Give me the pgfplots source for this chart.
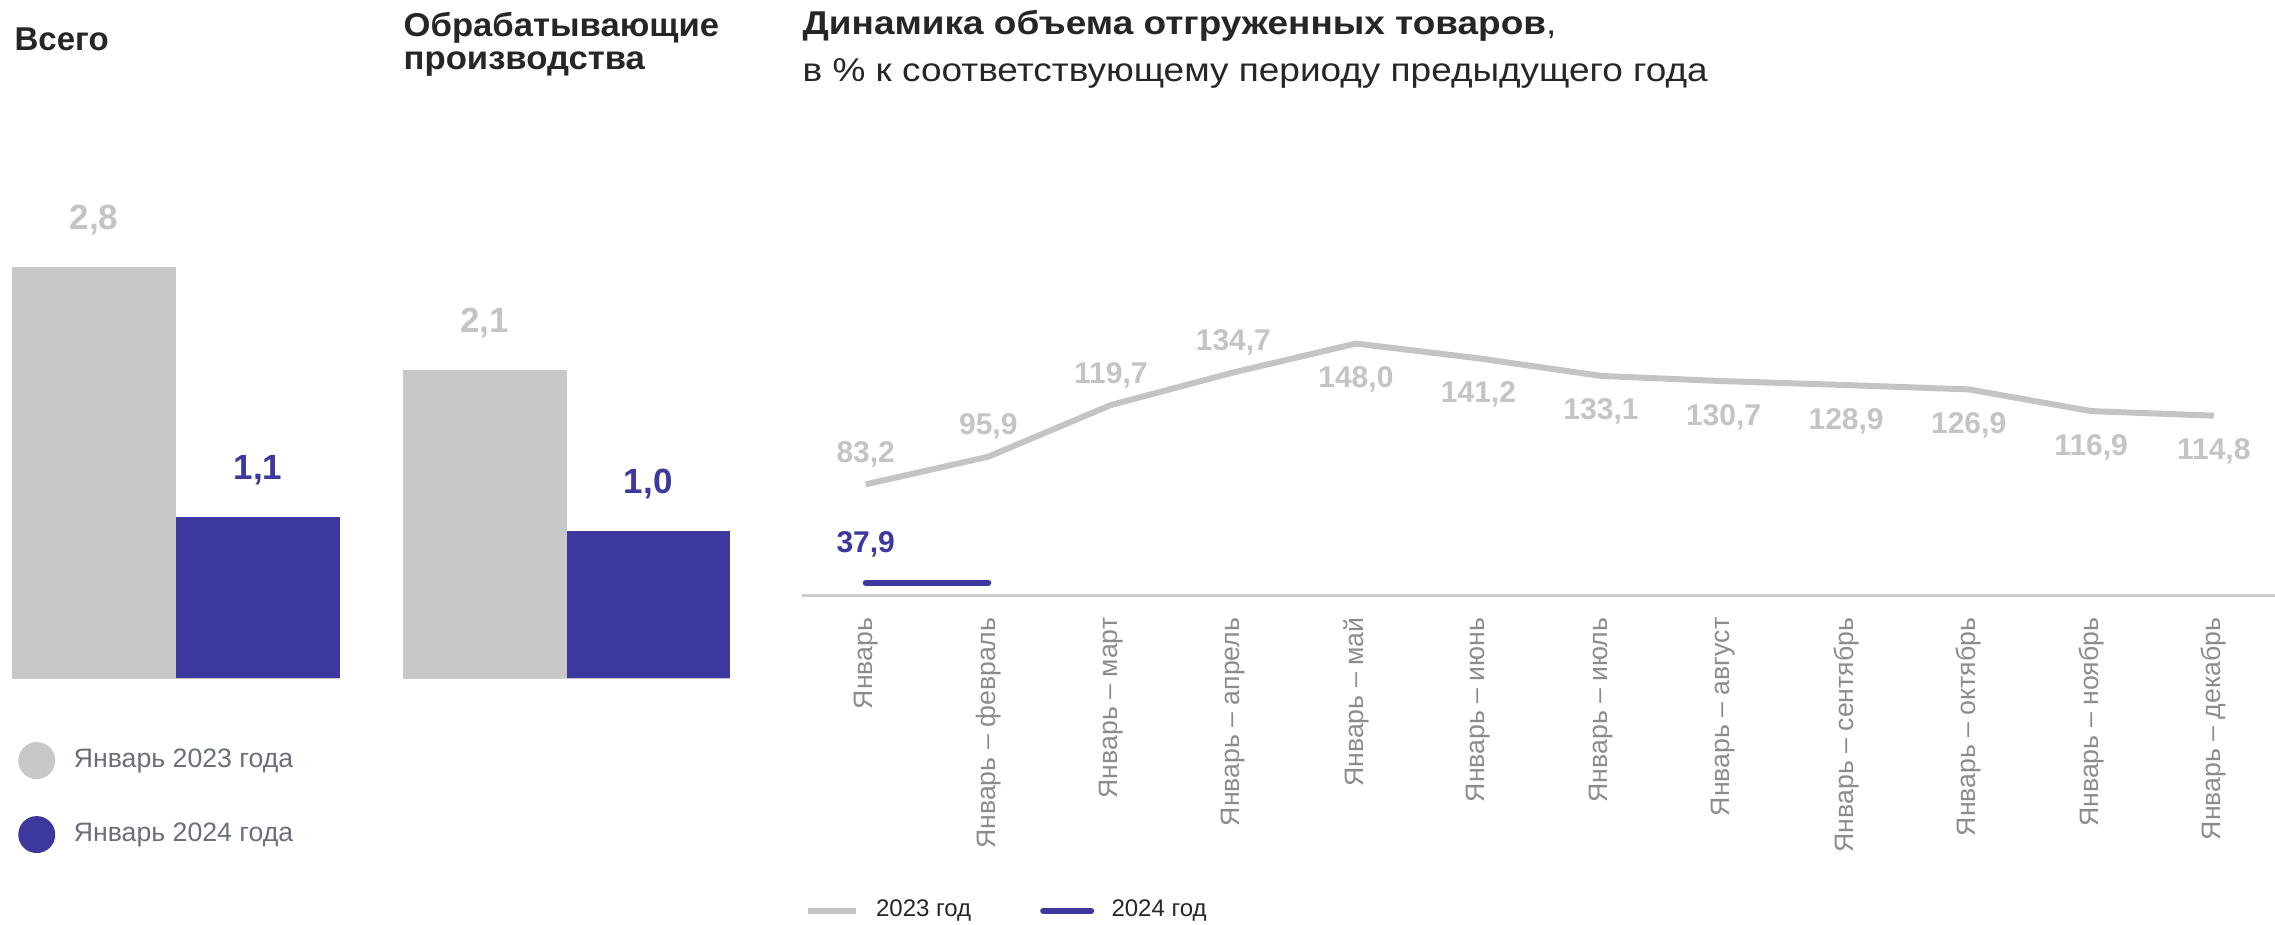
\documentclass[border=0pt]{standalone}
\usepackage{pgfplots}
\pgfplotsset{compat=1.18}
\usepackage{fontspec}
\setmainfont{Liberation Sans}
\newfontfamily\headA[FakeStretch=1.05]{Liberation Sans}
\newfontfamily\headB[FakeStretch=1.12]{Liberation Sans}

\definecolor{barGray}{HTML}{C8C8C8}
\definecolor{barBlue}{HTML}{3D389D}
\definecolor{labelGray}{HTML}{C4C4C4}
\definecolor{lineGray}{HTML}{C4C4C4}
\definecolor{tickGray}{HTML}{8C8C8C}
\definecolor{titleColor}{HTML}{262626}
\definecolor{legendText}{HTML}{6B6E7C}
\definecolor{axisGray}{HTML}{CCCCCC}

\pgfplotsset{
  barpanel/.style={
    anchor=south west, scale only axis,
    height=132.12pt,
    xmin=-0.5, xmax=1.5, ymin=0, ymax=3,
    ybar, bar width=1, bar shift=0pt,
    axis y line=none, axis x line*=bottom,
    x axis line style={-, draw=axisGray, line width=0.6pt},
    xtick=\empty, ytick=\empty, major tick length=0pt,
    clip=false,
    every axis plot/.append style={draw=none},
    nodes near coords,
    every node near coord/.append style={font=\fontsize{10.5}{12}\selectfont\bfseries,
      text=labelGray, anchor=base, yshift=11.25pt, inner sep=0pt},
    /pgf/number format/.cd, use comma, fixed, fixed zerofill, precision=1,
      assume math mode=true,
  },
}

\begin{document}
\begin{tikzpicture}
\path[use as bounding box] (0,0) rectangle (682.5pt,277.5pt);

% headings
\node[anchor=base west, inner sep=0pt, text=titleColor,
  font=\fontsize{9.9}{11.9}\selectfont\bfseries] at (4.2pt,262.2pt) {Всего};
\node[anchor=base west, inner sep=0pt, text=titleColor,
  font=\headA\fontsize{9.9}{11.9}\selectfont\bfseries] at (120.9pt,266.4pt) {Обрабатывающие};
\node[anchor=base west, inner sep=0pt, text=titleColor,
  font=\headA\fontsize{9.9}{11.9}\selectfont\bfseries] at (120.9pt,256.5pt) {производства};
\node[anchor=base west, inner sep=0pt, text=titleColor,
  font=\headB\fontsize{9.9}{11.9}\selectfont] at (240.6pt,267pt) {\textbf{Динамика объема отгруженных товаров},};
\node[anchor=base west, inner sep=0pt, text=titleColor,
  font=\headB\fontsize{9.9}{11.9}\selectfont] at (240.6pt,252.9pt) {в \% к соответствующему периоду предыдущего года};

% total
\begin{axis}[barpanel, at={(3.6pt,74.1pt)}, width=98.4pt,
  legend style={at={(axis description cs:0.017,-0.144)}, anchor=north west,
    draw=none, fill=none, inner sep=0pt, row sep=11.1pt, column sep=5.6pt,
    nodes={inner sep=0pt}, font=\fontsize{8}{9.6}\selectfont, text=legendText,
    cells={anchor=west}},
  legend image code/.code={\fill[#1] (5.55pt,0pt) circle (5.55pt);},
]
\addplot[fill=barGray] coordinates {(0,2.8)};
\addlegendentry{Январь 2023 года}
\addplot[fill=barBlue, every node near coord/.append style={text=barBlue}] coordinates {(1,1.1)};
\addlegendentry{Январь 2024 года}
\end{axis}

% manufacturing
\begin{axis}[barpanel, at={(120.9pt,74.1pt)}, width=98.1pt]
\addplot[fill=barGray] coordinates {(0,2.1)};
\addplot[fill=barBlue, every node near coord/.append style={text=barBlue}] coordinates {(1,1.0)};
\end{axis}

% dynamics
\begin{axis}[
  at={(240.6pt,98.7pt)}, anchor=south west, scale only axis,
  width=441.9pt, height=83.55pt,
  xmin=-0.52, xmax=11.5, ymin=31.8, ymax=160,
  axis y line=none, axis x line*=bottom,
  x axis line style={-, draw=axisGray, line width=0.9pt},
  xtick={0,...,11},
  xticklabels={{Январь},{Январь – февраль},{Январь – март},{Январь – апрель},
    {Январь – май},{Январь – июнь},{Январь – июль},{Январь – август},
    {Январь – сентябрь},{Январь – октябрь},{Январь – ноябрь},{Январь – декабрь}},
  major tick length=0pt, ytick=\empty,
  xticklabel style={rotate=90, anchor=east, inner sep=0pt,
    font=\fontsize{8}{9.6}\selectfont, text=tickGray},
  xticklabel shift=6.3pt,
  clip=false,
  /pgf/number format/.cd, use comma, fixed, fixed zerofill, precision=1,
    assume math mode=true,
  /pgfplots/.cd,
  legend columns=2,
  legend style={at={(axis description cs:0.0014,-1.131)}, anchor=west,
    draw=none, fill=none, inner sep=0pt, column sep=5.2pt,
    nodes={inner sep=0pt}, font=\fontsize{7.2}{8.6}\selectfont, text=titleColor},
  legend image code/.code={\draw[#1] (0pt,0pt) -- (14.4pt,0pt);},
  lbl/.style={draw=none, forget plot, nodes near coords,
    every node near coord/.append style={font=\fontsize{9}{10.8}\selectfont\bfseries,
      text=labelGray, anchor=base, inner sep=0pt}},
]
\addplot[lineGray, line width=1.8pt, line join=round] coordinates {
  (0,83.2)(1,95.9)(2,119.7)(3,134.7)(4,148.0)(5,141.2)
  (6,133.1)(7,130.7)(8,128.9)(9,126.9)(10,116.9)(11,114.8)};
\addlegendentry{2023 год\kern15.5pt}
\addplot[lbl, every node near coord/.append style={yshift=6.6pt}] coordinates {
  (0,83.2)(1,95.9)(2,119.7)(3,134.7)};
\addplot[lbl, every node near coord/.append style={yshift=-13.2pt}] coordinates {
  (4,148.0)(5,141.2)(6,133.1)(7,130.7)(8,128.9)(9,126.9)(10,116.9)(11,114.8)};
\addplot[barBlue, line width=1.8pt, line cap=round] coordinates {(0,37.9)(1,37.9)};
\addlegendentry{2024 год}
\addplot[lbl, every node near coord/.append style={yshift=9pt, text=barBlue}] coordinates {(0,37.9)};
\end{axis}
\end{tikzpicture}
\end{document}
